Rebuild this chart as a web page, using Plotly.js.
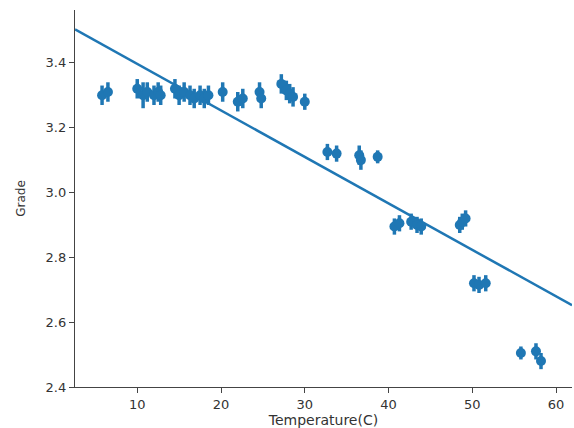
<!DOCTYPE html>
<html>
<head>
<meta charset="utf-8">
<script src="https://cdn.plot.ly/plotly-3.0.1.min.js"></script>
<style>html,body{margin:0;padding:0;background:#fff;}#chart{width:574px;height:428px;}</style>
</head>
<body>
<div id="chart"></div>
<script>
// Temperature (C) bins and mean grade with error
const temps  = [5.8, 6.5, 10.0, 10.7, 11.2, 12.0, 12.5, 12.8, 14.5, 15.0, 15.6, 16.3, 16.8, 17.5, 18.0, 18.5,
                20.2, 22.0, 22.6, 24.6, 24.8, 27.2, 27.8, 28.2, 28.6, 30.0,
                32.7, 33.8, 36.5, 36.7, 38.7,
                40.7, 41.3, 42.7, 43.4, 43.9, 48.5, 48.8, 49.2,
                50.2, 50.8, 51.6, 55.8, 57.6, 58.2];
const grades = [3.30, 3.31, 3.32, 3.30, 3.31, 3.30, 3.31, 3.30, 3.32, 3.30, 3.31, 3.30, 3.29, 3.30, 3.29, 3.30,
                3.31, 3.28, 3.29, 3.31, 3.29, 3.335, 3.315, 3.305, 3.295, 3.28,
                3.125, 3.12, 3.115, 3.10, 3.11,
                2.895, 2.905, 2.91, 2.90, 2.895, 2.90, 2.91, 2.92,
                2.72, 2.715, 2.72, 2.505, 2.51, 2.48];
const errs   = [0.03, 0.03, 0.03, 0.04, 0.03, 0.03, 0.03, 0.03, 0.03, 0.03, 0.03, 0.03, 0.03, 0.03, 0.03, 0.03,
                0.03, 0.03, 0.03, 0.03, 0.03, 0.03, 0.03, 0.03, 0.03, 0.025,
                0.025, 0.025, 0.03, 0.03, 0.02,
                0.025, 0.025, 0.025, 0.025, 0.025, 0.025, 0.025, 0.025,
                0.025, 0.025, 0.025, 0.02, 0.025, 0.025];
// Regression fit shown in the chart
const fitIntercept = 3.540;
const fitSlope = -0.01434;
const xRange = [2.57, 61.9];
const yRange = [2.4, 3.563];

const blue = '#1f77b4';
const lineX = xRange.slice();
const lineY = lineX.map(x => fitIntercept + fitSlope * x);

const data = [
  {x: lineX, y: lineY, type: 'scatter', mode: 'lines', line: {color: blue, width: 2.5}, hoverinfo: 'skip'},
  {x: temps, y: grades, type: 'scatter', mode: 'markers',
   marker: {color: blue, size: 10},
   error_y: {type: 'data', array: errs, visible: true, color: blue, thickness: 3.5, width: 0}}
];

const axisCommon = {
  showgrid: false, zeroline: false, showline: true, linecolor: '#444', linewidth: 1.2,
  ticks: 'outside', ticklen: 5, tickwidth: 1, tickcolor: '#444',
  tickfont: {family: 'DejaVu Sans', size: 13, color: '#333'}, mirror: false
};

const layout = {
  width: 574, height: 428,
  margin: {l: 75, r: 2, t: 10, b: 41},
  paper_bgcolor: '#fff', plot_bgcolor: '#fff',
  showlegend: false,
  xaxis: Object.assign({}, axisCommon, {
    range: xRange, tickvals: [10, 20, 30, 40, 50, 60],
    title: {text: 'Temperature(C)', font: {family: 'DejaVu Sans', size: 14, color: '#333'}, standoff: 0}
  }),
  yaxis: Object.assign({}, axisCommon, {
    range: yRange, tickvals: [2.4, 2.6, 2.8, 3.0, 3.2, 3.4], tickformat: '.1f',
    title: {text: 'Grade', font: {family: 'DejaVu Sans', size: 12, color: '#333'}, standoff: 17}
  })
};

Plotly.newPlot('chart', data, layout, {displayModeBar: false, staticPlot: true});
</script>
</body>
</html>
